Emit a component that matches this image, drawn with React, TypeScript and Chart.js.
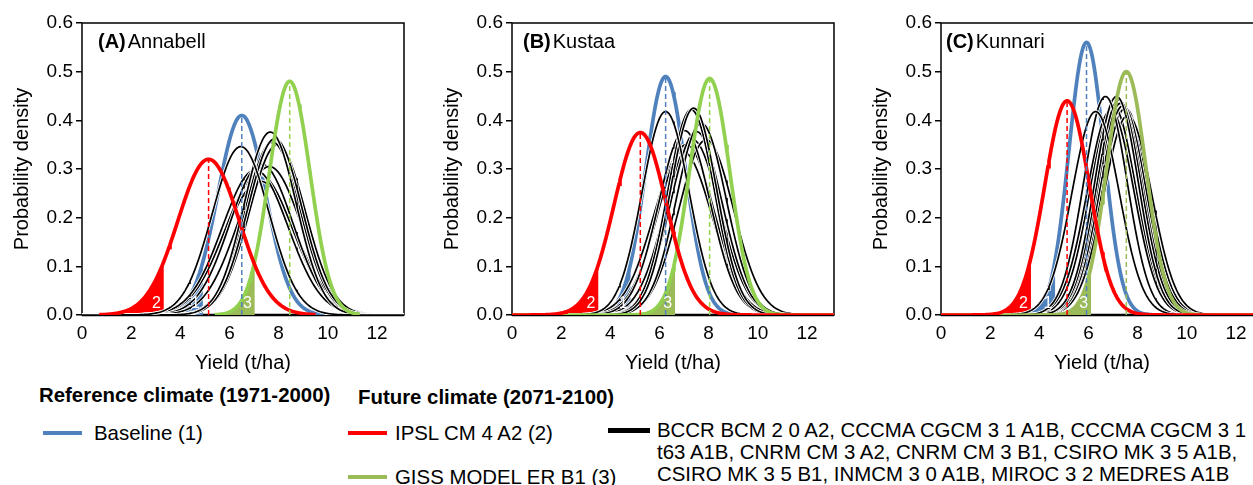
import React, { useEffect, useRef } from "react";
import { Chart, registerables } from "chart.js";

Chart.register(...registerables);

const FONT = "'Liberation Sans', Arial, Helvetica, sans-serif";
Chart.defaults.font.family = FONT;

// ---------------- DATA ----------------
const panelLetters = ["A", "B", "C"];
const panelNames = ["Annabell", "Kustaa", "Kunnari"];
const xTicks = [0, 2, 4, 6, 8, 10, 12];
const yTicks = [0.0, 0.1, 0.2, 0.3, 0.4, 0.5, 0.6];
const X_MAX = 13.1;

// Baseline (1) — mean yield (t/ha), peak density, lower-tail limit, drawn range
const baselineMean = [6.5, 6.25, 5.92];
const baselinePeak = [0.41, 0.49, 0.56];
const baselineTail = [4.92, 4.83, 4.65];
const baselineRange = [[1.6, 10.4], [0, 13.1], [0, 13.1]];

// IPSL CM 4 A2 (2)
const ipslMean = [5.15, 5.22, 5.13];
const ipslPeak = [0.32, 0.375, 0.44];
const ipslTail = [3.33, 3.52, 3.66];
const ipslRange = [[0.7, 9.5], [0, 13.1], [0, 13.1]];

// GISS MODEL ER B1 (3)
const gissMean = [8.45, 8.04, 7.54];
const gissPeak = [0.48, 0.486, 0.5];
const gissTail = [7.03, 6.64, 6.11];
const gissRange = [[5.4, 11.3], [0, 13.1], [0, 13.1]];

// Other GCM scenarios (black curves): means and peak densities per panel
const otherMeansA = [6.46, 7.66, 7.85, 7.75, 7.95, 7.62, 7.3, 7.05, 7.2, 7.25];
const otherPeaksA = [0.346, 0.376, 0.362, 0.355, 0.35, 0.305, 0.31, 0.298, 0.29, 0.275];
const otherMeansB = [6.25, 7.39, 7.29, 7.7, 7.02, 7.5, 7.9, 7.09, 6.95, 7.35];
const otherPeaksB = [0.418, 0.425, 0.422, 0.394, 0.379, 0.377, 0.36, 0.35, 0.336, 0.36];
const otherMeansC = [6.29, 6.69, 7.14, 7.24, 7.3, 7.4, 6.9, 7.6, 7.0, 7.5];
const otherPeaksC = [0.418, 0.449, 0.449, 0.442, 0.435, 0.43, 0.42, 0.41, 0.43, 0.425];
const otherMeans = [otherMeansA, otherMeansB, otherMeansC];
const otherPeaks = [otherPeaksA, otherPeaksB, otherPeaksC];

// ---------------- STYLE ----------------
const BLUE = "#4f81bd";
const RED = "#ff0000";
const GREEN_LINE = ["#92d050", "#92d050", "#9bbb59"];
const GREEN_FILL = "#9bbb59";
const titleOffset = [16, 11, 5];

// normal density described by its mean and its peak height
function density(x: number, mean: number, peak: number) {
  const sd = 1 / (peak * Math.sqrt(2 * Math.PI));
  const z = (x - mean) / sd;
  return peak * Math.exp(-0.5 * z * z);
}
function curve(mean: number, peak: number, from: number, to: number) {
  const pts: { x: number; y: number }[] = [];
  const n = Math.max(2, Math.round((to - from) / 0.04));
  for (let i = 0; i <= n; i++) {
    const x = from + ((to - from) * i) / n;
    pts.push({ x, y: density(x, mean, peak) });
  }
  return pts;
}

function buildDatasets(p: number) {
  const ds: any[] = [];
  const line = (data: any, color: string, width: number, order: number, extra: any = {}) => ({
    data,
    borderColor: color,
    backgroundColor: color,
    borderWidth: width,
    pointRadius: 0,
    fill: false,
    tension: 0,
    order,
    ...extra,
  });
  const groups = [
    { mean: baselineMean[p], peak: baselinePeak[p], tail: baselineTail[p], range: baselineRange[p], color: BLUE, fillColor: BLUE, order: 60, dashOrder: 2 },
    { mean: ipslMean[p], peak: ipslPeak[p], tail: ipslTail[p], range: ipslRange[p], color: RED, fillColor: RED, order: 10, dashOrder: 1 },
    { mean: gissMean[p], peak: gissPeak[p], tail: gissTail[p], range: gissRange[p], color: GREEN_LINE[p], fillColor: GREEN_FILL, order: 11, dashOrder: 3 },
  ];
  groups.forEach((g) => {
    // shaded lower tail
    ds.push(
      line(curve(g.mean, g.peak, g.range[0], g.tail), g.fillColor, 0, 70, {
        fill: "origin",
        backgroundColor: g.fillColor,
      })
    );
    // density curve
    ds.push(line(curve(g.mean, g.peak, g.range[0], g.range[1]), g.color, 3.7, g.order));
    // dashed mean line
    ds.push(
      line(
        [
          { x: g.mean, y: 0 },
          { x: g.mean, y: density(g.mean, g.mean, g.peak) },
        ],
        g.color,
        1.5,
        g.dashOrder,
        { borderDash: [5, 3] }
      )
    );
  });
  otherMeans[p].forEach((m, k) => {
    const pts = curve(m, otherPeaks[p][k], 0, X_MAX);
    ds.push(line(pts, "#ffffff", 3.4, 31 + 2 * k));
    ds.push(line(pts, "#000000", 1.7, 30 + 2 * k));
  });
  return ds;
}

function Panel({ p, left }: { p: number; left: number }) {
  const ref = useRef<HTMLCanvasElement>(null);
  useEffect(() => {
    if (!ref.current) return;
    const tails = [
      { v: baselineTail[p], t: "1" },
      { v: ipslTail[p], t: "2" },
      { v: gissTail[p], t: "3" },
    ];
    const framePlugin = {
      id: "frame" + p,
      beforeDatasetsDraw(chart: any) {
        const { ctx, chartArea } = chart;
        const { left: l, right: r, top: t, bottom: b } = chartArea;
        ctx.save();
        ctx.strokeStyle = "#000";
        ctx.lineWidth = 1.5;
        ctx.strokeRect(l, t, r - l, b - t);
        ctx.lineWidth = 2.5;
        ctx.beginPath();
        ctx.moveTo(l, b);
        ctx.lineTo(r, b);
        ctx.stroke();
        ctx.restore();
      },
      afterDatasetsDraw(chart: any) {
        const { ctx, chartArea, scales } = chart;
        ctx.save();
        ctx.fillStyle = "#ffffff";
        ctx.font = "16px " + FONT;
        ctx.textAlign = "right";
        ctx.textBaseline = "alphabetic";
        tails.forEach((tl) => {
          ctx.fillText(tl.t, scales.x.getPixelForValue(tl.v) - 3, scales.y.getPixelForValue(0) - 7);
        });
        // panel title
        ctx.fillStyle = "#000";
        ctx.textAlign = "left";
        ctx.textBaseline = "middle";
        const tx = chartArea.left + titleOffset[p];
        const ty = chartArea.top + 19;
        ctx.font = "bold 20px " + FONT;
        const lbl = "(" + panelLetters[p] + ")";
        ctx.fillText(lbl, tx, ty);
        const w = ctx.measureText(lbl).width;
        ctx.font = "20px " + FONT;
        ctx.fillText(panelNames[p], tx + w + 2, ty);
        ctx.restore();
      },
    };
    const chart = new Chart(ref.current, {
      type: "line",
      data: { datasets: buildDatasets(p) },
      options: {
        animation: false,
        responsive: false,
        events: [],
        layout: { padding: { top: 23, right: 16, left: 0, bottom: 0 } },
        plugins: { legend: { display: false }, tooltip: { enabled: false } },
        elements: { point: { radius: 0 } },
        scales: {
          x: {
            type: "linear",
            min: 0,
            max: X_MAX,
            afterFit: (s: any) => {
              s.height = 65;
            },
            afterBuildTicks: (s: any) => {
              s.ticks = xTicks.map((v) => ({ value: v }));
            },
            grid: { display: false, drawTicks: false },
            border: { display: false },
            ticks: { color: "#000", padding: 7, maxRotation: 0, font: { size: 19, family: FONT } },
            title: {
              display: true,
              text: "Yield (t/ha)",
              color: "#000",
              font: { size: 20, family: FONT },
              padding: { top: 0, bottom: 5 },
            },
          },
          y: {
            min: 0,
            max: 0.6,
            afterFit: (s: any) => {
              s.width = 82;
            },
            afterBuildTicks: (s: any) => {
              s.ticks = yTicks.map((v) => ({ value: v }));
            },
            grid: { display: true, drawOnChartArea: false, drawTicks: true, tickLength: 6, color: "#000", lineWidth: 1.5 },
            border: { display: false },
            ticks: {
              color: "#000",
              padding: 3,
              font: { size: 19, family: FONT },
              callback: (v: any) => Number(v).toFixed(1),
            },
            title: {
              display: true,
              text: "Probability density",
              color: "#000",
              font: { size: 20, family: FONT },
              padding: { top: 10, bottom: 0 },
            },
          },
        },
      } as any,
      plugins: [framePlugin],
    });
    return () => chart.destroy();
  }, [p]);
  return (
    <canvas
      ref={ref}
      width={420}
      height={380}
      style={{ position: "absolute", left, top: 0, width: 420, height: 380 }}
    />
  );
}

const txt: React.CSSProperties = {
  position: "absolute",
  fontFamily: FONT,
  fontSize: 20.4,
  lineHeight: "22px",
  whiteSpace: "nowrap",
  color: "#000",
};

function Swatch({ left, top, color }: { left: number; top: number; color: string }) {
  return <div style={{ position: "absolute", left, top, width: 39, height: 4, background: color }} />;
}

export default function App() {
  return (
    <div
      style={{
        position: "absolute",
        left: 0,
        top: 0,
        width: 1253,
        height: 485,
        overflow: "hidden",
        background: "#fff",
      }}
    >
      <Panel p={0} left={0} />
      <Panel p={1} left={430} />
      <Panel p={2} left={859} />

      <div style={{ ...txt, left: 39, top: 384, fontWeight: "bold" }}>Reference climate (1971-2000)</div>
      <div style={{ ...txt, left: 358, top: 386, fontWeight: "bold" }}>Future climate (2071-2100)</div>

      <Swatch left={43} top={431} color={BLUE} />
      <div style={{ ...txt, left: 94, top: 422 }}>Baseline (1)</div>

      <Swatch left={348} top={431} color={RED} />
      <div style={{ ...txt, left: 395, top: 422 }}>IPSL CM 4 A2 (2)</div>

      <Swatch left={348} top={475} color={GREEN_FILL} />
      <div style={{ ...txt, left: 395, top: 466 }}>GISS MODEL ER B1 (3)</div>

      <div style={{ position: "absolute", left: 608, top: 428, width: 42, height: 5, background: "#000" }} />
      <div style={{ ...txt, left: 657, top: 419 }}>
        BCCR BCM 2 0 A2, CCCMA CGCM 3 1 A1B, CCCMA CGCM 3 1
        <br />
        t63 A1B, CNRM CM 3 A2, CNRM CM 3 B1, CSIRO MK 3 5 A1B,
        <br />
        CSIRO MK 3 5 B1, INMCM 3 0 A1B, MIROC 3 2 MEDRES A1B
      </div>
    </div>
  );
}
